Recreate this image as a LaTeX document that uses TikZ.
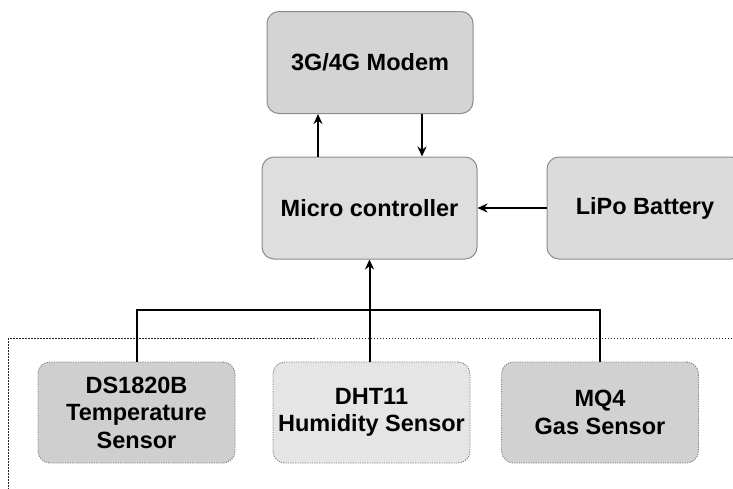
\documentclass[tikz,border=0pt]{standalone}
\usepackage{fontspec}
\setmainfont{Liberation Sans}
\usetikzlibrary{arrows.meta}
\tikzset{
  mainbox/.style={draw=black!45, line width=1pt, rounded corners=12pt, minimum width=#1, minimum height=102pt, align=center, font=\fontsize{23.5}{28}\selectfont\bfseries},
  mainbox/.default=210pt,
  sensorbox/.style={draw=black!50, line width=0.9pt, dash pattern=on 1.2pt off 1.2pt, rounded corners=12pt, minimum width=197pt, minimum height=101pt, align=center, font=\fontsize{23.5}{27.5}\selectfont\bfseries},
  arr/.style={-{Stealth[length=10pt,width=9pt]}, line width=2pt},
  bus/.style={line width=2pt}
}
\begin{document}
\begin{tikzpicture}[x=1pt,y=-1pt]
\useasboundingbox (0,0) rectangle (733,488);
\clip (0,0) rectangle (733,488);
\fill[white] (0,0) rectangle (733,488);
\node[mainbox=206pt, fill=black!17] (modem) at (370,62.5) {3G/4G Modem};
\node[mainbox=215pt, fill=black!13] (micro) at (369.5,208) {Micro controller};
\node[mainbox=196pt, fill=black!14] (lipo) at (645,208) {LiPo Battery};
\draw[black!85, line width=0.9pt, dash pattern=on 1.5pt off 1.5pt] (8,338) rectangle (745,500);
\node[sensorbox, fill=black!19] (ds) at (136.5,412.5) {DS1820B\\Temperature\\Sensor};
\node[sensorbox, fill=black!10] (dht) at (371.5,412.5) {DHT11\\Humidity Sensor};
\node[sensorbox, fill=black!18] (mq) at (600,412.5) {MQ4\\Gas Sensor};
\coordinate (busL) at (137,310);
\coordinate (busR) at (600,310);
\draw[arr] ([xshift=-51.5pt]micro.north) -- ([xshift=-51.5pt]micro.north |- modem.south);
\draw[arr] ([xshift=52.5pt]micro.north |- modem.south) -- ([xshift=52.5pt]micro.north);
\draw[arr] (lipo.west) -- (micro.east);
\draw[bus] (ds.north -| busL) -- (busL) -- (busR) -- (mq.north -| busR);
\draw[arr] (dht.north -| micro.south) -- (micro.south);
\end{tikzpicture}
\end{document}
